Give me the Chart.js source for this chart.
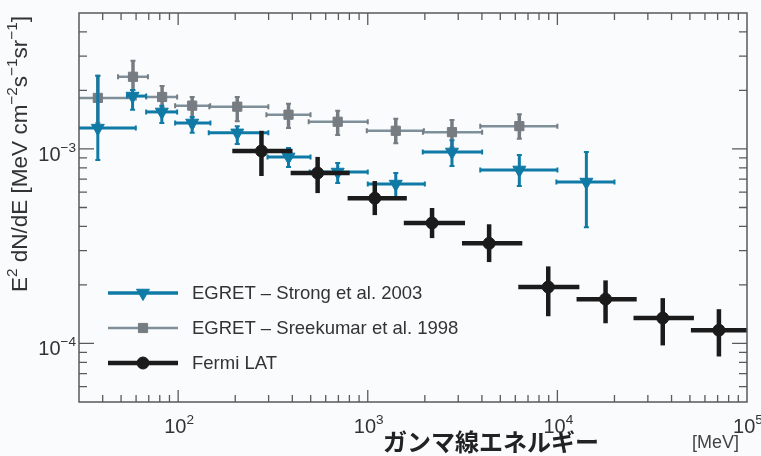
<!DOCTYPE html>
<html>
<head>
<meta charset="utf-8">
<script src="https://cdn.jsdelivr.net/npm/chart.js@4.4.1/dist/chart.umd.min.js"></script>
<style>
  html, body { margin: 0; padding: 0; background: #fafbfd; }
  #c { display: block; }
</style>
</head>
<body>
<canvas id="c" width="761" height="456"></canvas>
<script>
// Fermi LAT
const fermiE    = [275, 544, 1089, 2183, 4365, 8950, 17950, 35950, 71100];
const fermiF    = [9.76e-4, 7.52e-4, 5.58e-4, 4.16e-4, 3.27e-4, 1.95e-4, 1.69e-4, 1.35e-4, 1.17e-4];
const fermiELo  = [193, 392, 783, 1549, 3140, 6220, 12620, 25200, 50600];
const fermiEHi  = [401, 803, 1607, 3258, 6530, 13060, 26200, 52500, 102400];
const fermiFLo  = [7.26e-4, 5.93e-4, 4.57e-4, 3.48e-4, 2.62e-4, 1.38e-4, 1.27e-4, 9.77e-5, 8.57e-5];
const fermiFHi  = [1.24e-3, 9.1e-4, 6.84e-4, 4.97e-4, 4.1e-4, 2.49e-4, 2.11e-4, 1.71e-4, 1.50e-4];

// EGRET - Strong et al. 2003
const strongE   = [37.7, 57.5, 82, 118.6, 205, 382, 694, 1405, 2780, 6300, 14220];
const strongF   = [1.28e-3, 1.87e-3, 1.55e-3, 1.36e-3, 1.21e-3, 9.1e-4, 7.61e-4, 6.6e-4, 9.65e-4, 7.8e-4, 6.76e-4];
const strongELo = [29, 53.7, 67.8, 96.4, 145, 296, 494, 1000, 1950, 3920, 9880];
const strongEHi = [59.8, 67.8, 98.8, 148, 299, 499, 1000, 2000, 4010, 10000, 20000];
const strongFLo = [8.78e-4, 1.59e-3, 1.36e-3, 1.21e-3, 1.06e-3, 8.07e-4, 6.68e-4, 5.66e-4, 8.17e-4, 6.44e-4, 3.96e-4];
const strongFHi = [2.38e-3, 2.01e-3, 1.67e-3, 1.46e-3, 1.31e-3, 1.01e-3, 8.47e-4, 7.52e-4, 1.11e-3, 9.31e-4, 9.65e-4];

// EGRET - Sreekumar et al. 1998
const sreeE     = [37.7, 57.8, 82.3, 118.6, 205, 382, 694, 1405, 2780, 6300];
const sreeF     = [1.83e-3, 2.35e-3, 1.85e-3, 1.67e-3, 1.65e-3, 1.50e-3, 1.38e-3, 1.24e-3, 1.22e-3, 1.31e-3];
const sreeELo   = [29, 48.2, 67.8, 96.4, 146, 292, 488, 988, 1954, 3920];
const sreeEHi   = [59.8, 69.3, 98.8, 147.6, 299, 499, 1000, 1977, 4010, 10000];
const sreeFLo   = [1.36e-3, 2.01e-3, 1.63e-3, 1.30e-3, 1.39e-3, 1.28e-3, 1.18e-3, 1.07e-3, 1.02e-3, 1.13e-3];
const sreeFHi   = [2.38e-3, 2.84e-3, 2.11e-3, 1.85e-3, 1.85e-3, 1.71e-3, 1.57e-3, 1.43e-3, 1.41e-3, 1.51e-3];

// 軸の目盛り
const xTicks = [100, 1000, 10000, 100000];
const xTickExp = ["2", "3", "4", "5"];
const yTicks = [1e-4, 1e-3];
const yTickExp = ["−4", "−3"];

const legendLabels = ["EGRET – Strong et al. 2003", "EGRET – Sreekumar et al. 1998", "Fermi LAT"];

const BLUE = "#0f7aa6";
const GRAY = "#767c82";
const GRAYLINE = "#7f8f99";
const BLACK = "#1b1b1b";
const FONT = "'Liberation Sans', Arial, sans-serif";

function pts(xs, ys) {
    return xs.map((x, i) => ({ x: x, y: ys[i] }));
}

// 誤差棒の設定 (データセット順)
const errBars = [
    { lo: fermiELo, hi: fermiEHi, flo: fermiFLo, fhi: fermiFHi, e: fermiE, f: fermiF, color: BLACK, width: 4.5, cap: 0 },
    { lo: strongELo, hi: strongEHi, flo: strongFLo, fhi: strongFHi, e: strongE, f: strongF, color: BLUE, width: 3, cap: 2.5 },
    { lo: sreeELo, hi: sreeEHi, flo: sreeFLo, fhi: sreeFHi, e: sreeE, f: sreeF, color: GRAYLINE, width: 2.5, cap: 2.5, vcolor: GRAY },
];

// 上付き文字つきのテキスト
function richWidth(ctx, parts, size) {
    let w = 0;
    parts.forEach(p => {
        ctx.font = (p.sup ? size * 0.68 : size) + "px " + FONT;
        w += ctx.measureText(p.t).width;
    });
    return w;
}
function drawRich(ctx, parts, x, y, size, align) {
    const w = richWidth(ctx, parts, size);
    let cx = align === "center" ? x - w / 2 : (align === "right" ? x - w : x);
    ctx.textAlign = "left";
    ctx.textBaseline = "alphabetic";
    parts.forEach(p => {
        ctx.font = (p.sup ? size * 0.68 : size) + "px " + FONT;
        ctx.fillText(p.t, cx, p.sup ? y - size * 0.45 : y);
        cx += ctx.measureText(p.t).width;
    });
}

const errorBarPlugin = {
    id: "errorBars",
    beforeDraw(chart) {
        const ctx = chart.ctx;
        ctx.save();
        ctx.fillStyle = "#fafbfd";
        ctx.fillRect(0, 0, chart.width, chart.height);
        ctx.restore();
    },
    beforeDatasetDraw(chart, args) {
        const eb = errBars[args.index];
        const xs = chart.scales.x, ys = chart.scales.y;
        const ctx = chart.ctx;
        const a = chart.chartArea;
        ctx.save();
        ctx.beginPath();
        ctx.rect(a.left, a.top, a.right - a.left, a.bottom - a.top);
        ctx.clip();
        ctx.lineCap = "butt";
        for (let i = 0; i < eb.e.length; i++) {
            const px = xs.getPixelForValue(eb.e[i]);
            const py = ys.getPixelForValue(eb.f[i]);
            const x0 = xs.getPixelForValue(eb.lo[i]);
            const x1 = xs.getPixelForValue(eb.hi[i]);
            const y0 = ys.getPixelForValue(eb.flo[i]);
            const y1 = ys.getPixelForValue(eb.fhi[i]);
            ctx.strokeStyle = eb.color;
            ctx.lineWidth = eb.width;
            ctx.beginPath();
            ctx.moveTo(x0, py); ctx.lineTo(x1, py);
            ctx.stroke();
            ctx.strokeStyle = eb.vcolor || eb.color;
            ctx.lineWidth = eb.vcolor ? eb.width + 1 : eb.width;
            ctx.beginPath();
            ctx.moveTo(px, y0); ctx.lineTo(px, y1);
            ctx.stroke();
            if (eb.cap) {
                ctx.lineWidth = 2;
                ctx.beginPath();
                ctx.moveTo(x0, py - eb.cap); ctx.lineTo(x0, py + eb.cap);
                ctx.moveTo(x1, py - eb.cap); ctx.lineTo(x1, py + eb.cap);
                ctx.moveTo(px - eb.cap, y0); ctx.lineTo(px + eb.cap, y0);
                ctx.moveTo(px - eb.cap, y1); ctx.lineTo(px + eb.cap, y1);
                ctx.stroke();
            }
        }
        ctx.restore();
    },
    afterDatasetsDraw(chart) {
        const ctx = chart.ctx;
        const a = chart.chartArea;
        const xs = chart.scales.x, ys = chart.scales.y;
        ctx.save();

        // 枠
        ctx.strokeStyle = "#5a5a5a";
        ctx.lineWidth = 1.5;
        ctx.strokeRect(a.left, a.top, a.right - a.left, a.bottom - a.top);

        // 目盛り (内向き)
        ctx.lineWidth = 1.3;
        ctx.beginPath();
        for (let d = 10; d <= 1e5; d *= 10) {
            for (let m = 1; m <= 9; m++) {
                const v = d * m;
                if (v < xs.min || v > xs.max) continue;
                const px = xs.getPixelForValue(v);
                if (px <= a.left + 1 || px >= a.right - 1) continue;
                const len = m === 1 ? 12 : 7;
                ctx.moveTo(px, a.bottom); ctx.lineTo(px, a.bottom - len);
                ctx.moveTo(px, a.top); ctx.lineTo(px, a.top + len);
            }
        }
        for (let d = 1e-5; d <= 1e-2; d *= 10) {
            for (let m = 1; m <= 9; m++) {
                const v = d * m;
                if (v < ys.min || v > ys.max) continue;
                const py = ys.getPixelForValue(v);
                if (py <= a.top + 1 || py >= a.bottom - 1) continue;
                const len = m === 1 ? 15 : 8;
                ctx.moveTo(a.left, py); ctx.lineTo(a.left + len, py);
                ctx.moveTo(a.right, py); ctx.lineTo(a.right - len, py);
            }
        }
        ctx.stroke();

        // 目盛りラベル
        ctx.fillStyle = "#333";
        xTicks.forEach((v, i) => {
            drawRich(ctx, [{ t: "10" }, { t: xTickExp[i], sup: true }], xs.getPixelForValue(v) + 1, 433, 20, "center");
        });
        yTicks.forEach((v, i) => {
            drawRich(ctx, [{ t: "10" }, { t: yTickExp[i], sup: true }], a.left - 3, ys.getPixelForValue(v) + 12, 20, "right");
        });

        // 軸タイトル
        ctx.fillStyle = "#222";
        ctx.font = "bold 24px 'Noto Sans CJK JP', sans-serif";
        ctx.textAlign = "left";
        ctx.textBaseline = "middle";
        ctx.fillText("ガンマ線エネルギー", 383, 442);
        ctx.fillStyle = "#444";
        ctx.font = "18px " + FONT;
        ctx.textAlign = "left";
        ctx.textBaseline = "alphabetic";
        ctx.fillText("[MeV]", 692, 448);

        ctx.save();
        ctx.translate(27, 154);
        ctx.rotate(-Math.PI / 2);
        ctx.fillStyle = "#333";
        drawRich(ctx, [
            { t: "E" }, { t: "2", sup: true }, { t: " dN/dE [MeV cm" }, { t: "−2", sup: true },
            { t: "s" }, { t: "−1", sup: true }, { t: "sr" }, { t: "−1", sup: true }, { t: "]" }
        ], 0, 0, 22.5, "center");
        ctx.restore();

        // 凡例
        const rows = [
            { y: 293, color: BLUE, lw: 3.5, ds: chart.data.datasets[1] },
            { y: 328, color: GRAYLINE, lw: 2.5, ds: chart.data.datasets[2] },
            { y: 363, color: BLACK, lw: 4.5, ds: chart.data.datasets[0] },
        ];
        rows.forEach((r, i) => {
            ctx.strokeStyle = r.color;
            ctx.lineWidth = r.lw;
            ctx.beginPath();
            ctx.moveTo(108, r.y); ctx.lineTo(178, r.y);
            ctx.stroke();
            ctx.fillStyle = r.ds.backgroundColor;
            ctx.strokeStyle = r.ds.borderColor;
            ctx.lineWidth = 1;
            Chart.helpers.drawPoint(ctx, {
                pointStyle: r.ds.pointStyle, radius: r.ds.pointRadius,
                rotation: r.ds.rotation || 0, borderWidth: 1
            }, 143, r.y);
            ctx.fillStyle = "#333";
            ctx.font = "18.5px " + FONT;
            ctx.textAlign = "left";
            ctx.textBaseline = "middle";
            ctx.fillText(legendLabels[i], 192, r.y + 1);
        });
        ctx.restore();
    }
};

new Chart(document.getElementById("c"), {
    type: "scatter",
    data: {
        datasets: [
            {
                label: legendLabels[2],
                data: pts(fermiE, fermiF),
                pointStyle: "circle", pointRadius: 6,
                backgroundColor: BLACK, borderColor: BLACK, borderWidth: 1,
            },
            {
                label: legendLabels[0],
                data: pts(strongE, strongF),
                pointStyle: "triangle", pointRadius: 7.5, rotation: 180,
                backgroundColor: BLUE, borderColor: BLUE, borderWidth: 1,
            },
            {
                label: legendLabels[1],
                data: pts(sreeE, sreeF),
                pointStyle: "rect", pointRadius: 6.5,
                backgroundColor: GRAY, borderColor: GRAY, borderWidth: 1,
            },
        ],
    },
    options: {
        responsive: false,
        animation: false,
        layout: { padding: { left: 79, right: 14, top: 13, bottom: 54 } },
        plugins: { legend: { display: false }, tooltip: { enabled: false } },
        scales: {
            x: { type: "logarithmic", min: 30, max: 1e5, display: false },
            y: { type: "logarithmic", min: 5e-5, max: 5e-3, display: false },
        },
    },
    plugins: [errorBarPlugin],
});
</script>
</body>
</html>
